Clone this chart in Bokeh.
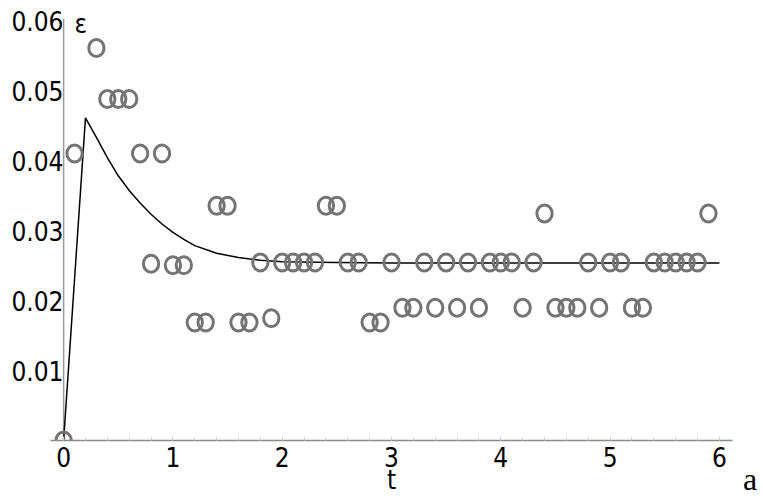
from bokeh.plotting import figure
from bokeh.layouts import row
from bokeh.models import Label, Div, SingleIntervalTicker, FixedTicker, PrintfTickFormatter, Range1d
from bokeh.embed import file_html
from bokeh.resources import INLINE

# Sample points (t, epsilon)
t_pts = [0.0, 0.1, 0.3, 0.4, 0.5, 0.6, 0.7, 0.8, 0.9, 1.0, 1.1, 1.2, 1.3, 1.4, 1.5,
         1.6, 1.7, 1.8, 1.9, 2.0, 2.1, 2.2, 2.3, 2.4, 2.5, 2.6, 2.7, 2.8, 2.9, 3.0,
         3.1, 3.2, 3.3, 3.4, 3.5, 3.6, 3.7, 3.8, 3.9, 4.0, 4.1, 4.2, 4.3, 4.4, 4.5,
         4.6, 4.7, 4.8, 4.9, 5.0, 5.1, 5.2, 5.3, 5.4, 5.5, 5.6, 5.7, 5.8, 5.9]
eps_pts = [0.0, 0.0411, 0.0562, 0.0489, 0.0489, 0.0489, 0.0411, 0.0253, 0.0411, 0.0251, 0.0251,
           0.0169, 0.0169, 0.0336, 0.0336, 0.0169, 0.0169, 0.0255, 0.0175, 0.0255, 0.0255,
           0.0255, 0.0255, 0.0336, 0.0336, 0.0255, 0.0255, 0.0169, 0.0169, 0.0255,
           0.0190, 0.0190, 0.0255, 0.0190, 0.0255, 0.0190, 0.0255, 0.0190, 0.0255, 0.0255,
           0.0255, 0.0190, 0.0255, 0.0325, 0.0190, 0.0190, 0.0190, 0.0255, 0.0190, 0.0255,
           0.0255, 0.0190, 0.0190, 0.0255, 0.0255, 0.0255, 0.0255, 0.0255, 0.0325]

# Model curve
curve_t = [0.0, 0.2, 0.3, 0.4, 0.5, 0.6, 0.7, 0.8, 0.9, 1.0, 1.1, 1.2, 1.4, 1.6, 1.8,
           2.0, 2.5, 3.0, 4.0, 5.0, 6.0]
curve_eps = [0.0, 0.0462, 0.0434, 0.0405, 0.0379, 0.0358, 0.0340, 0.0324, 0.0310, 0.0298,
             0.0288, 0.0279, 0.0268, 0.0262, 0.0258, 0.0256, 0.0255, 0.0254, 0.0254,
             0.0254, 0.0254]

y_ticks = [0.01, 0.02, 0.03, 0.04, 0.05, 0.06]
y_axis_end = 0.0604
y_label = "ε"
x_label = "t"
panel_tag = "a"

FONT = "DejaVu Sans Condensed"
FSIZE = "26px"

p = figure(frame_width=682, frame_height=440,
           x_range=Range1d(-0.12, 6.12), y_range=Range1d(0, 0.0630),
           output_backend="svg", toolbar_location=None,
           min_border_left=50, min_border_top=0, min_border_right=11, min_border_bottom=40)
p.grid.visible = False
p.outline_line_color = None

# x axis
xa = p.xaxis[0]
xa.ticker = SingleIntervalTicker(interval=1, num_minor_ticks=5)
xa.axis_line_color = "#8a8a8a"
xa.axis_line_width = 1.5
xa.major_tick_in = 4
xa.major_tick_out = 0
xa.major_tick_line_color = "#cfcfcf"
xa.minor_tick_in = 3
xa.minor_tick_out = 0
xa.minor_tick_line_color = "#cfcfcf"
xa.major_label_text_font = FONT
xa.major_label_text_font_size = FSIZE
xa.major_label_text_color = "black"
xa.major_label_standoff = 6
xa.axis_label = x_label
xa.axis_label_text_font = FONT
xa.axis_label_text_font_size = FSIZE
xa.axis_label_text_font_style = "normal"
xa.axis_label_text_color = "black"
xa.axis_label_standoff = -5

# y axis (labels only; the axis line is drawn at t = 0)
ya = p.yaxis[0]
ya.ticker = FixedTicker(ticks=y_ticks)
ya.formatter = PrintfTickFormatter(format="%.2f")
ya.axis_line_color = None
ya.major_tick_line_color = None
ya.minor_tick_line_color = None
ya.major_tick_in = 0
ya.major_tick_out = 0
ya.minor_tick_in = 0
ya.minor_tick_out = 0
ya.major_label_standoff = -13
ya.major_label_text_font = FONT
ya.major_label_text_font_size = FSIZE
ya.major_label_text_color = "black"

p.segment(x0=[0], y0=[0], x1=[0], y1=[y_axis_end], line_color="#9a9a9a", line_width=1.5)

p.line(curve_t, curve_eps, line_color="black", line_width=1.5)
p.ellipse(x=t_pts, y=eps_pts, width=15.3, height=17, width_units="screen", height_units="screen",
          fill_color=None, line_color="#747474", line_width=3)

p.add_layout(Label(x=0, y=y_axis_end, x_offset=11, y_offset=-5, text=y_label, text_align="left",
                   text_baseline="middle", text_font=FONT, text_font_size=FSIZE,
                   text_color="black"))

tag = Div(text=panel_tag, width=16, height=36, margin=(461, 0, 0, 0),
          styles={"font-family": "Liberation Serif", "font-size": "32px", "color": "black",
                  "line-height": "normal"})

layout = row(p, tag, spacing=0)
open("out.html", "w").write(file_html(layout, INLINE))
